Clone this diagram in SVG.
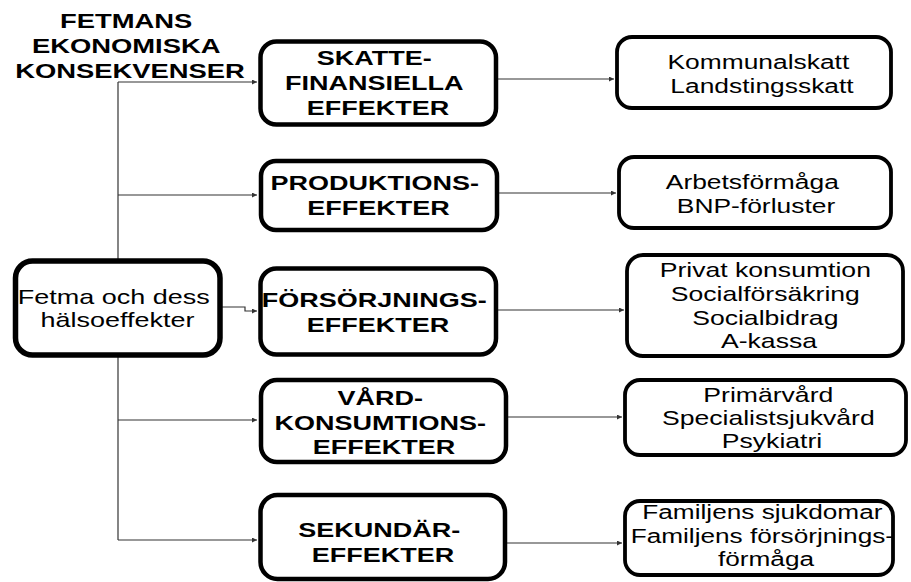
<svg xmlns="http://www.w3.org/2000/svg" width="911" height="582" viewBox="0 0 911 582">
  <style>
    .box { fill: #ffffff; stroke: #000000; }
    .main { stroke-width: 5.5; }
    .mid { stroke-width: 4.5; }
    .leaf { stroke-width: 3.8; }
    .b { font-family: "Liberation Sans", Arial, sans-serif; font-weight: bold; font-size: 20px; text-anchor: middle; fill: #000; }
    .r { font-family: "Liberation Sans", Arial, sans-serif; font-size: 20px; text-anchor: middle; fill: #000; }
    .link { fill: none; stroke: #333333; stroke-width: 1.2; }
  </style>
  <defs>
    <marker id="tip" viewBox="0 0 6 6" refX="6" refY="3" markerWidth="5" markerHeight="5" markerUnits="userSpaceOnUse" orient="auto">
      <path d="M0,0 L6,3 L0,6 z" fill="#333333"/>
    </marker>
  </defs>

  <rect width="911" height="582" fill="#ffffff"/>

  <!-- heading -->
  <g id="title">
    <text class="b" transform="translate(130,28) scale(1.37,1)">
      <tspan x="0" y="0">FETMANS</tspan>
      <tspan x="0" y="25">EKONOMISKA</tspan>
      <tspan x="0" y="50">KONSEKVENSER</tspan>
    </text>
  </g>

  <!-- connectors -->
  <g id="connectors">
    <path class="link" d="M118,82 V540"/>
    <path class="link" d="M118,82 H257" marker-end="url(#tip)"/>
    <path class="link" d="M118,195 H257" marker-end="url(#tip)"/>
    <path class="link" d="M222,307 H245 V311 H257" marker-end="url(#tip)"/>
    <path class="link" d="M118,420 H257" marker-end="url(#tip)"/>
    <path class="link" d="M118,540 H257" marker-end="url(#tip)"/>
    <path class="link" d="M498,79 H614" marker-end="url(#tip)"/>
    <path class="link" d="M499,193 H616" marker-end="url(#tip)"/>
    <path class="link" d="M498,310 H624" marker-end="url(#tip)"/>
    <path class="link" d="M508,417 H622" marker-end="url(#tip)"/>
    <path class="link" d="M507,543 H622" marker-end="url(#tip)"/>
  </g>

  <!-- root node -->
  <g id="fetma">
    <rect class="box main" x="15.5" y="261" width="204.5" height="94" rx="17"/>
    <text class="r" transform="translate(117.5,304) scale(1.35,1)">
      <tspan x="0" y="0">Fetma och dess</tspan>
      <tspan x="0" y="23">hälsoeffekter</tspan>
    </text>
  </g>

  <!-- effect categories -->
  <g id="skatte">
    <rect class="box mid" x="260.5" y="41.5" width="235.5" height="83" rx="16"/>
    <text class="b" transform="translate(378,65) scale(1.35,1)">
      <tspan x="0" y="0">SKATTE-</tspan>
      <tspan x="0" y="25">FINANSIELLA</tspan>
      <tspan x="0" y="50">EFFEKTER</tspan>
    </text>
  </g>

  <g id="produktion">
    <rect class="box mid" x="261" y="161" width="236" height="69" rx="15"/>
    <text class="b" transform="translate(378.5,190) scale(1.35,1)">
      <tspan x="0" y="0">PRODUKTIONS-</tspan>
      <tspan x="0" y="25">EFFEKTER</tspan>
    </text>
  </g>

  <g id="forsorjning">
    <rect class="box mid" x="260.5" y="268.5" width="235.5" height="86" rx="16"/>
    <text class="b" transform="translate(378,307) scale(1.35,1)">
      <tspan x="0" y="0">FÖRSÖRJNINGS-</tspan>
      <tspan x="0" y="25">EFFEKTER</tspan>
    </text>
  </g>

  <g id="vard">
    <rect class="box mid" x="261" y="380" width="245" height="82" rx="16"/>
    <text class="b" transform="translate(384,405) scale(1.35,1)">
      <tspan x="0" y="0">VÅRD-</tspan>
      <tspan x="0" y="25">KONSUMTIONS-</tspan>
      <tspan x="0" y="49">EFFEKTER</tspan>
    </text>
  </g>

  <g id="sekundar">
    <rect class="box mid" x="260.5" y="495" width="244.5" height="84" rx="17"/>
    <text class="b" transform="translate(383,537) scale(1.35,1)">
      <tspan x="0" y="0">SEKUNDÄR-</tspan>
      <tspan x="0" y="25">EFFEKTER</tspan>
    </text>
  </g>

  <!-- cost items -->
  <g id="skatter">
    <rect class="box leaf" x="617" y="37" width="274" height="71" rx="15"/>
    <text class="r" transform="translate(762,69) scale(1.32,1)">
      <tspan x="0" y="0">Kommunalskatt</tspan>
      <tspan x="0" y="24">Landstingsskatt</tspan>
    </text>
  </g>

  <g id="arbete">
    <rect class="box leaf" x="619" y="157" width="272" height="71" rx="15"/>
    <text class="r" transform="translate(756,189) scale(1.32,1)">
      <tspan x="0" y="0">Arbetsförmåga</tspan>
      <tspan x="0" y="24">BNP-förluster</tspan>
    </text>
  </g>

  <g id="konsumtion">
    <rect class="box leaf" x="627" y="255" width="276" height="101" rx="16"/>
    <text class="r" transform="translate(769,277) scale(1.33,1)">
      <tspan x="0" y="0">Privat konsumtion</tspan>
      <tspan x="0" y="24">Socialförsäkring</tspan>
      <tspan x="0" y="48">Socialbidrag</tspan>
      <tspan x="0" y="71">A-kassa</tspan>
    </text>
  </g>

  <g id="sjukvard">
    <rect class="box leaf" x="625" y="380" width="281" height="75" rx="15"/>
    <text class="r" transform="translate(772,402) scale(1.33,1)">
      <tspan x="0" y="0">Primärvård</tspan>
      <tspan x="0" y="23">Specialistsjukvård</tspan>
      <tspan x="0" y="46">Psykiatri</tspan>
    </text>
  </g>

  <g id="familj">
    <rect class="box leaf" x="625" y="501" width="268" height="74" rx="15"/>
    <text class="r" transform="translate(766,519) scale(1.31,1)">
      <tspan x="0" y="0">Familjens sjukdomar</tspan>
      <tspan x="0" y="24">Familjens försörjnings-</tspan>
      <tspan x="0" y="47">förmåga</tspan>
    </text>
  </g>
</svg>
